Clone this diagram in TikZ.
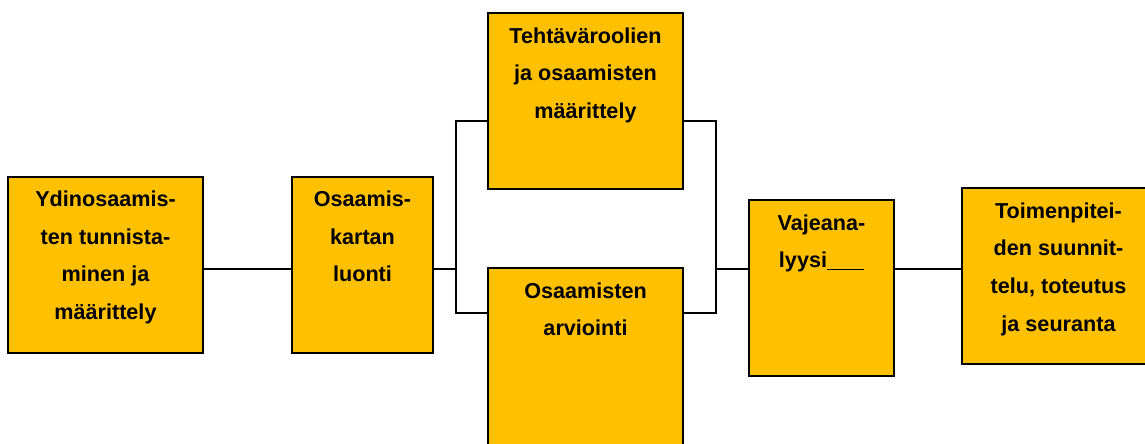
\documentclass[tikz,border=0pt]{standalone}
\usepackage{fontspec}
\setmainfont{Liberation Sans}
\definecolor{boxyellow}{RGB}{255,192,0}
\newcommand{\boxcontent}[3]{\parbox[c][#2pt][t]{#1pt}{\fontsize{21.6}{37.7}\bfseries\selectfont\centering\rule{0pt}{30pt}#3\par}}
\tikzset{
  stagebox/.style={draw=black, line width=2pt, fill=boxyellow, inner sep=0pt, outer sep=0pt},
  conn/.style={draw=black, line width=1.8pt}
}
\begin{document}
\begin{tikzpicture}[x=1pt,y=-1pt]
\useasboundingbox (0,0) rectangle (1145,444);
\clip (0,0) rectangle (1145,444);
\node[stagebox] (b1) at (105.5,264.5) {\boxcontent{195}{176}{Ydinosaamis-\\ten tunnista-\\minen ja\\määrittely}};
\node[stagebox] (b2) at (362.5,264.5) {\boxcontent{141}{176}{Osaamis-\\kartan\\luonti}};
\node[stagebox] (b3) at (585.5,101) {\boxcontent{195}{176}{Tehtäväroolien\\ja osaamisten\\määrittely}};
\node[stagebox] (b4) at (585.5,359) {\boxcontent{195}{182}{Osaamisten\\arviointi}};
\node[stagebox] (b5) at (821.5,288) {\boxcontent{145}{176}{Vajeana-\\lyysi\underline{\hspace{37pt}}}};
\node[stagebox] (b6) at (1058.5,276) {\boxcontent{193}{176}{Toimenpitei-\\den suunnit-\\telu, toteutus\\ja seuranta}};
\coordinate (jl) at (456,269);
\coordinate (jr) at (716,269);
\coordinate (lt) at (456,121);
\coordinate (lb) at (456,313);
\coordinate (rt) at (716,121);
\coordinate (rb) at (716,313);
\draw[conn] (b1.east |- jl) -- (b2.west |- jl);
\draw[conn] (b2.east |- jl) -- (jl);
\draw[conn] (b3.west |- lt) -- (lt) -- (lb) -- (b4.west |- lb);
\draw[conn] (b3.east |- rt) -- (rt) -- (rb) -- (b4.east |- rb);
\draw[conn] (jr) -- (b5.west |- jr);
\draw[conn] (b5.east |- jr) -- (b6.west |- jr);
\end{tikzpicture}
\end{document}
